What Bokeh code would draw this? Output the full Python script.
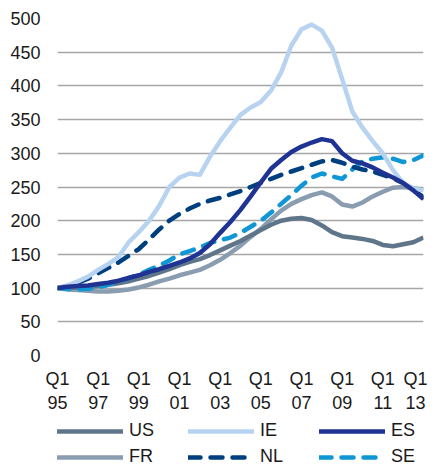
from bokeh.plotting import figure
from bokeh.models import FixedTicker, Legend, LegendItem, Range1d, ColumnDataSource
from bokeh.layouts import column
from bokeh.embed import file_html
from bokeh.resources import INLINE

years = [1995.0 + 0.5 * i for i in range(37)]

US = [100, 100, 101, 102, 103, 105, 107, 110, 114, 118, 123, 128, 134, 139, 143, 149, 156, 163,
      170, 178, 186, 194, 200, 203, 204, 201, 193, 183, 177, 175, 173, 170, 164, 162, 165, 168, 175]
IE = [100, 104, 110, 117, 127, 136, 146, 168, 183, 200, 222, 250, 264, 270, 268, 295, 318, 338,
      357, 368, 376, 393, 420, 460, 484, 491, 482, 457, 410, 362, 338, 318, 300, 275, 256, 248, 245]
ES = [100, 102, 103, 104, 106, 108, 111, 115, 119, 124, 128, 133, 138, 144, 152, 165, 182, 198,
      216, 236, 257, 277, 290, 302, 310, 316, 321, 318, 300, 289, 285, 279, 271, 264, 256, 245, 232]
FR = [100, 98, 97, 96, 95, 95, 96, 98, 101, 105, 110, 114, 119, 123, 127, 134, 142, 152,
      163, 176, 188, 202, 215, 225, 232, 238, 242, 236, 224, 221, 227, 236, 243, 249, 250, 248, 246]
NL = [100, 103, 108, 114, 122, 130, 138, 148, 158, 172, 187, 200, 210, 218, 225, 230, 234, 239,
      244, 250, 256, 262, 268, 273, 278, 283, 288, 290, 286, 280, 276, 273, 268, 263, 256, 245, 235]
SE = [100, 99, 98, 99, 101, 105, 110, 115, 120, 127, 133, 141, 150, 155, 160, 167, 171, 175,
      182, 191, 200, 212, 225, 238, 252, 264, 270, 266, 262, 276, 288, 292, 294, 292, 287, 290, 297]

tick_years = [1995, 1997, 1999, 2001, 2003, 2005, 2007, 2009, 2011, 2013]
tick_labels = ["Q1\n95", "Q1\n97", "Q1\n99", "Q1\n01", "Q1\n03", "Q1\n05", "Q1\n07", "Q1\n09", "Q1\n11", "Q1\n13"]
y_ticks = [0, 50, 100, 150, 200, 250, 300, 350, 400, 450, 500]

FONT = "Liberation Sans"
FS = "18px"
TXT = "#1a1a1a"

p = figure(width=427, height=415, output_backend="svg", toolbar_location=None,
           x_range=Range1d(1995, 2013), y_range=Range1d(0, 500),
           min_border_left=57, min_border_right=4, min_border_top=18, min_border_bottom=60)
p.outline_line_color = None

p.xgrid.visible = False
p.ygrid.grid_line_color = "#a6a6a6"
p.ygrid.grid_line_width = 1.5
p.ygrid.ticker = FixedTicker(ticks=y_ticks)

p.yaxis.ticker = FixedTicker(ticks=y_ticks)
p.yaxis.axis_line_color = None
p.yaxis.major_tick_line_color = None
p.yaxis.minor_tick_line_color = None
p.yaxis.major_label_text_font = FONT
p.yaxis.major_label_text_font_size = FS
p.yaxis.major_label_text_color = TXT
p.yaxis.major_label_standoff = 11

p.xaxis.ticker = FixedTicker(ticks=tick_years)
p.xaxis.major_label_overrides = {y: l for y, l in zip(tick_years, tick_labels)}
p.xaxis.axis_line_color = None
p.xaxis.major_tick_line_color = None
p.xaxis.minor_tick_line_color = None
p.xaxis.major_label_text_font = FONT
p.xaxis.major_label_text_font_size = FS
p.xaxis.major_label_text_color = TXT
p.xaxis.major_label_standoff = 7

src = ColumnDataSource(dict(x=years, US=US, IE=IE, ES=ES, FR=FR, NL=NL, SE=SE))

series = [
    ("US", "#5f758a", "solid"),
    ("IE", "#b7d3f0", "solid"),
    ("ES", "#1f3393", "solid"),
    ("FR", "#8a9db0", "solid"),
    ("NL", "#003f7f", "12 10"),
    ("SE", "#0f96d4", "12 10"),
]
draw_order = ["FR", "US", "SE", "NL", "IE", "ES"]
for name in draw_order:
    _, col, dash = next(s for s in series if s[0] == name)
    p.line("x", name, source=src, line_color=col, line_width=4.5, line_dash=dash,
           line_cap="round" if dash != "solid" else "butt", line_join="round")

# legend strip below the chart
lg = figure(width=427, height=54, output_backend="svg", toolbar_location=None,
            x_range=Range1d(0, 1), y_range=Range1d(0, 1),
            x_axis_location=None, y_axis_location=None,
            min_border_left=0, min_border_right=0, min_border_top=0, min_border_bottom=0)
lg.grid.visible = False
lg.outline_line_color = None

items = []
for name, col, dash in series:
    r = lg.line("x", name, source=src, line_color=col, line_width=4.5, line_dash=dash,
                line_cap="round", visible=False)
    items.append(LegendItem(label=name, renderers=[r]))

legend = Legend(items=items, orientation="horizontal", ncols=3,
                glyph_width=66, glyph_height=20, label_standoff=6, label_width=54,
                spacing=5, padding=0, margin=0,
                label_text_font=FONT, label_text_font_size=FS, label_text_color=TXT,
                border_line_color=None, background_fill_alpha=0,
                location=(0, 2), label_height=20)
lg.add_layout(legend)

open("out.html", "w").write(file_html(column(p, lg, spacing=0), INLINE))
